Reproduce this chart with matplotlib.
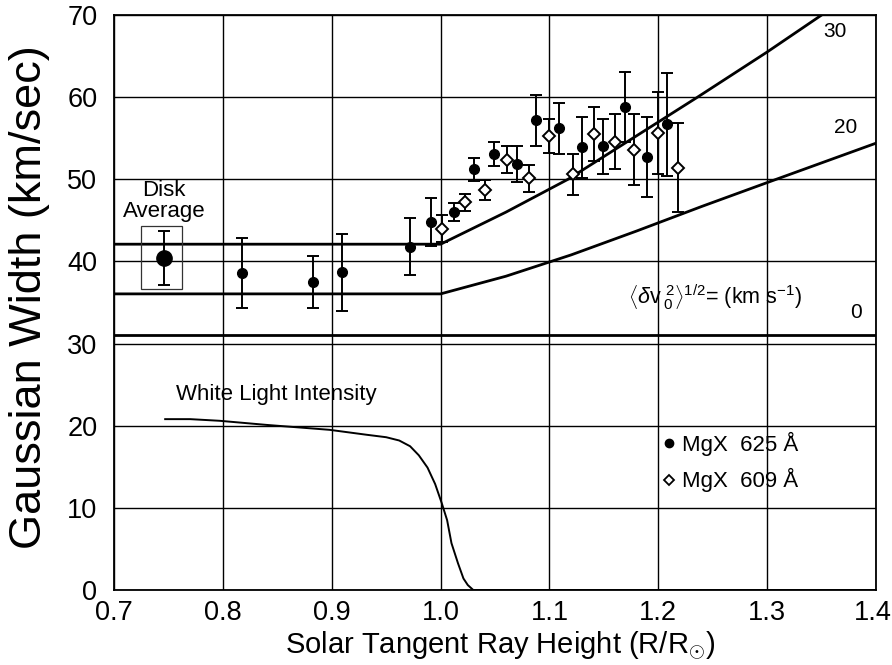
import matplotlib
matplotlib.use("Agg")
import matplotlib.pyplot as plt
from matplotlib.lines import Line2D
from matplotlib.patches import Rectangle
from matplotlib.transforms import ScaledTranslation

plt.rcParams['font.family'] = ['Liberation Sans', 'DejaVu Sans']
plt.rcParams['mathtext.fontset'] = 'custom'
plt.rcParams['mathtext.rm'] = 'Liberation Sans'
plt.rcParams['mathtext.it'] = 'Liberation Sans:italic'
plt.rcParams['mathtext.bf'] = 'Liberation Sans:bold'

# ---------------- data ----------------
# MgX 625 A (filled circles)
mg625_x = [0.818, 0.883, 0.909, 0.972, 0.991, 1.012, 1.031, 1.049, 1.070,
           1.088, 1.109, 1.130, 1.149, 1.169, 1.190, 1.208]
mg625_y = [38.6, 37.5, 38.7, 41.8, 44.8, 46.0, 51.2, 53.1, 51.9,
           57.2, 56.2, 53.9, 54.0, 58.8, 52.7, 56.7]
mg625_err = [4.3, 3.2, 4.7, 3.5, 2.9, 1.1, 1.35, 1.5, 2.2,
             3.1, 3.1, 3.7, 3.4, 4.3, 4.9, 6.3]

# MgX 609 A (open diamonds)
mg609_x = [1.001, 1.022, 1.041, 1.061, 1.081, 1.100, 1.122, 1.141, 1.160,
           1.178, 1.200, 1.218]
mg609_y = [44.0, 47.2, 48.7, 52.4, 50.1, 55.3, 50.6, 55.5, 54.6,
           53.6, 55.6, 51.4]
mg609_err = [1.6, 1.0, 1.2, 1.65, 1.7, 2.05, 2.5, 3.3, 3.4,
             4.3, 5.0, 5.4]

# Disk average
disk_x = [0.746]
disk_y = [40.45]
disk_err = [3.3]

# Model curves, labelled by <dv0^2>^(1/2) (km/s)
curve30_x = [0.7, 1.0, 1.06, 1.117, 1.236, 1.30, 1.35, 1.37]
curve30_y = [42.1, 42.1, 46.0, 50.0, 60.0, 65.5, 70.0, 71.6]
curve20_x = [0.7, 1.0, 1.06, 1.12, 1.18, 1.24, 1.30, 1.40]
curve20_y = [36.05, 36.05, 38.2, 40.8, 43.7, 46.7, 49.6, 54.4]
curve0_x = [0.7, 1.4]
curve0_y = [31.05, 31.05]

# White light intensity profile
wl_x = [0.747, 0.770, 0.797, 0.840, 0.898, 0.932, 0.950, 0.962, 0.972, 0.980,
        0.988, 0.995, 1.001, 1.006, 1.010, 1.016, 1.021, 1.025, 1.030, 1.40]
wl_y = [20.8, 20.8, 20.6, 20.1, 19.5, 18.9, 18.6, 18.2, 17.5, 16.4,
        14.9, 12.9, 10.6, 8.5, 5.7, 3.25, 1.4, 0.6, 0.0, 0.0]

x_ticks = [0.7, 0.8, 0.9, 1.0, 1.1, 1.2, 1.3, 1.4]
x_ticklabels = ['0.7', '0.8', '0.9', '1.0', '1.1', '1.2', '1.3', '1.4']
y_ticks = [0, 10, 20, 30, 40, 50, 60, 70]
y_ticklabels = ['0', '10', '20', '30', '40', '50', '60', '70']

# ---------------- figure ----------------
fig = plt.figure(figsize=(8.92, 6.65), dpi=100)
ax = fig.add_axes([0.1278, 0.1128, 0.8543, 0.8646])
ax.set_xlim(0.7, 1.4)
ax.set_ylim(0, 70)
ax.set_xticks(x_ticks)
ax.set_xticklabels(x_ticklabels)
ax.set_yticks(y_ticks)
ax.set_yticklabels(y_ticklabels)
ax.tick_params(axis='both', length=0, labelsize=19.5)
ax.tick_params(axis='x', pad=7)
ax.tick_params(axis='y', pad=12)
ax.grid(True, color='black', linewidth=1.0, zorder=0)
ax.set_axisbelow(True)
for s in ax.spines.values():
    s.set_linewidth(1.3)
# keep last x tick label inside the canvas
last = ax.get_xticklabels()[-1]
last.set_transform(last.get_transform() + ScaledTranslation(-3 / 100, 0, fig.dpi_scale_trans))

# model curves
for cx, cy in [(curve30_x, curve30_y), (curve20_x, curve20_y), (curve0_x, curve0_y)]:
    ax.plot(cx, cy, color='black', linewidth=2.0, zorder=2)

# white light
ax.plot(wl_x, wl_y, color='black', linewidth=1.4, zorder=2)

# data
ax.errorbar(mg625_x, mg625_y, yerr=mg625_err, fmt='o', color='black',
            markersize=7, elinewidth=1.4, capsize=4, capthick=1.4, zorder=4)
ax.errorbar(mg609_x, mg609_y, yerr=mg609_err, fmt='D', color='black',
            markerfacecolor='white', markeredgecolor='black', markeredgewidth=1.4,
            markersize=6.5, elinewidth=1.4, capsize=4, capthick=1.4, zorder=4)
ax.errorbar(disk_x, disk_y, yerr=disk_err, fmt='o', color='black',
            markersize=11, elinewidth=1.4, capsize=4, capthick=1.4, zorder=4)
ax.add_patch(Rectangle((0.7245, 36.6), 0.0377, 7.7, fill=False,
                       edgecolor='#333333', linewidth=0.9, zorder=3))

# annotations
ax.text(0.746, 47.3, 'Disk\nAverage', ha='center', va='center', fontsize=16,
        linespacing=1.0)
ax.text(0.757, 23.8, 'White Light Intensity', ha='left', va='center', fontsize=16)
ax.text(1.362, 68.0, '30', ha='center', va='center', fontsize=15)
ax.text(1.372, 56.3, '20', ha='center', va='center', fontsize=15)
ax.text(1.382, 33.8, '0', ha='center', va='center', fontsize=15)
ax.text(1.252, 35.6,
        r'$\left\langle\delta\mathrm{v}\,{}_0^{\,2}\right\rangle^{1/2}$= (km s$^{-1}$)',
        ha='center', va='center', fontsize=15.5)

# legend
handles = [Line2D([], [], marker='o', linestyle='none', color='black', markersize=6),
           Line2D([], [], marker='D', linestyle='none', markerfacecolor='white',
                  markeredgecolor='black', markeredgewidth=1.3, markersize=5.5)]
ax.legend(handles, ['MgX  625 \u00c5', 'MgX  609 \u00c5'], loc='upper left',
          bbox_to_anchor=(0.719, 0.275), frameon=False, fontsize=16,
          handlelength=0.6, handletextpad=0.3, labelspacing=0.55,
          borderpad=0, borderaxespad=0)

fig.text(500 / 892, 0.030, r'Solar Tangent Ray Height (R/R$_{\odot}$)',
         ha='center', va='center', fontsize=21)
fig.text(30 / 892, 0.5526, 'Gaussian Width (km/sec)', rotation=90,
         ha='center', va='center', fontsize=32.5)

fig.savefig('out.png', dpi=100)
